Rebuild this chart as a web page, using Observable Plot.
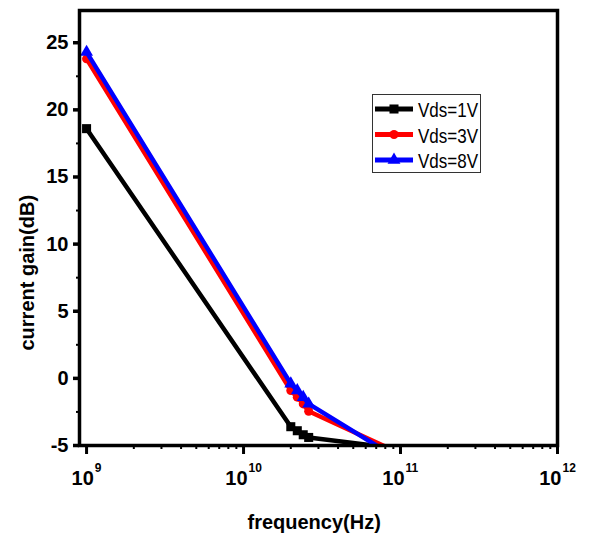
<!DOCTYPE html>
<html><head><meta charset="utf-8">
<script src="https://cdn.jsdelivr.net/npm/d3@7"></script>
<script src="https://cdn.jsdelivr.net/npm/@observablehq/plot@0.6"></script>
<style>
body{margin:0;background:#fff;}
#wrap{position:relative;width:589px;height:537px;font-family:"Liberation Sans",Arial,sans-serif;color:#000;}
#legend{position:absolute;left:372px;top:94px;}
</style></head>
<body><div id="wrap"></div>
<script>
// ---- data ----
const freqs = [1e9, 2.0e10, 2.2e10, 2.4e10, 2.6e10, 1e11];
const gain1V = [18.6, -3.6, -3.9, -4.2, -4.4, -5.25];
const gain3V = [23.8, -0.9, -1.4, -1.9, -2.45, -5.6];
const gain8V = [24.3, -0.4, -0.9, -1.4, -1.9, -6.1];
const seriesNames = ["Vds=1V", "Vds=3V", "Vds=8V"];
const seriesColors = ["#000000", "#ff0000", "#0000ff"];
const seriesSymbols = ["square", "circle", "triangle"];
const yTicks = [-5, 0, 5, 10, 15, 20, 25];
const yMinorTicks = [-2.5, 2.5, 7.5, 12.5, 17.5, 22.5];
const xTickExps = [9, 10, 11, 12];
const xMinorMult = [2, 3, 4, 5, 6, 7, 8, 9];
const xTitle = "frequency(Hz)";
const yTitle = "current gain(dB)";

const gains = [gain1V, gain3V, gain8V];
const rows = [];
gains.forEach((g, s) => g.forEach((v, i) => rows.push({series: seriesNames[s], f: freqs[i], v})));
const xMajors = xTickExps.map(e => 10 ** e);
const xMinors = [];
[9, 10, 11].forEach(e => xMinorMult.forEach(m => xMinors.push(m * 10 ** e)));

const FONT = '"Liberation Sans", Arial, sans-serif';
const seriesMarks = [];
seriesNames.forEach((name, s) => {
  const d = rows.filter(r => r.series === name);
  seriesMarks.push(Plot.line(d, {x: "f", y: "v", stroke: seriesColors[s], strokeWidth: 4.5, clip: true}));
  seriesMarks.push(Plot.dot(d, {x: "f", y: "v", symbol: () => seriesSymbols[s], fill: seriesColors[s], stroke: "none", r: s === 0 ? 5.1 : (s === 1 ? 4.5 : 4.8), clip: true}));
});

const oneDigit = xTickExps.filter(e => String(e).length === 1).map(e => 10 ** e);
const twoDigit = xTickExps.filter(e => String(e).length === 2).map(e => 10 ** e);
const mainLbl = (data, dx, tag) => Plot.text(data, {x: d => d, frameAnchor: "bottom", text: () => "10", textAnchor: "end", lineAnchor: "bottom", dx, dy: 39, fontSize: 20, fontWeight: "bold", fill: "black", ariaLabel: tag});
const expLbl = (data, dx, tag) => Plot.text(data, {x: d => d, frameAnchor: "bottom", text: d => String(Math.round(Math.log10(d))), textAnchor: "start", lineAnchor: "bottom", dx, dy: 26, fontSize: 12, fontWeight: "bold", fill: "black", ariaLabel: tag});

const chart = Plot.plot({
  width: 589, height: 537,
  marginLeft: 79, marginRight: 32, marginTop: 10, marginBottom: 92,
  style: {fontFamily: FONT, background: "white", color: "black", overflow: "visible"},
  x: {type: "log", domain: [10 ** 8.955, 1e12]},
  y: {domain: [-5, 27.4]},
  marks: [
    ...seriesMarks,
    Plot.axisX({ticks: xMinors, tickSize: 4, strokeWidth: 2, tickFormat: () => "", label: null}),
    Plot.axisX({ticks: xMajors, tickSize: 9, strokeWidth: 3, tickFormat: () => "", label: null}),
    Plot.axisY({ticks: yMinorTicks, tickSize: 3, strokeWidth: 2, tickFormat: () => "", label: null}),
    Plot.axisY({ticks: yTicks, tickSize: 6, strokeWidth: 3.5, tickPadding: 5, fontSize: 20, fontWeight: "bold", label: null, tickFormat: d => String(d)}),
    mainLbl(oneDigit, 7.3, "xlab-main"),
    mainLbl(twoDigit, 4.0, "xlab-main"),
    expLbl(oneDigit, 8.3, "xlab-exp"),
    expLbl(twoDigit, 5.0, "xlab-exp"),
    Plot.text([xTitle], {frameAnchor: "bottom", text: d => d, textAnchor: "start", dx: -71, dy: 83, lineAnchor: "bottom", fontSize: 20, fontWeight: "bold", fill: "black", ariaLabel: "xtitle"}),
    Plot.text([yTitle], {frameAnchor: "left", text: d => d, textAnchor: "start", dx: -46, dy: 122.5, rotate: -90, lineAnchor: "bottom", fontSize: 20, fontWeight: "bold", fill: "black", ariaLabel: "ytitle"}),
    Plot.frame({stroke: "black", strokeWidth: 3.5})
  ]
});

// stretch text like the reference
const svg = d3.select(chart);
svg.selectAll('g[aria-label="xlab-main"] text').each(function() { this.setAttribute("transform", (this.getAttribute("transform") || "") + " scale(1,1.3)"); });
svg.selectAll('g[aria-label="xlab-exp"] text').each(function() { this.setAttribute("transform", (this.getAttribute("transform") || "") + " scale(1,1.2)"); });
function fitLength(sel, len) {
  svg.selectAll(sel).each(function() {
    const s = this.textContent;
    while (this.firstChild) this.removeChild(this.firstChild);
    this.removeAttribute("y");
    this.textContent = s;
    this.setAttribute("textLength", len);
    this.setAttribute("lengthAdjust", "spacingAndGlyphs");
  });
}
fitLength('g[aria-label="ytitle"] text', 210);
fitLength('g[aria-label="xtitle"] text', 138);

const wrap = document.getElementById("wrap");
wrap.appendChild(chart);

// legend
const symMap = {square: d3.symbolSquare, circle: d3.symbolCircle, triangle: d3.symbolTriangle};
const rs = [5.1, 4.5, 4.8];
const leg = d3.create("svg").attr("id", "legend").attr("width", 110).attr("height", 80);
leg.append("rect").attr("x", 0.5).attr("y", 0.5).attr("width", 108).attr("height", 78).attr("fill", "white").attr("stroke", "#333").attr("stroke-width", 1);
seriesNames.forEach((name, s) => {
  const cy = 15 + s * 25.5;
  leg.append("line").attr("x1", 3).attr("x2", 41).attr("y1", cy).attr("y2", cy).attr("stroke", seriesColors[s]).attr("stroke-width", 5);
  leg.append("path").attr("transform", `translate(22,${cy})`).attr("d", d3.symbol(symMap[seriesSymbols[s]], Math.PI * rs[s] * rs[s])()).attr("fill", seriesColors[s]);
  leg.append("text").attr("transform", `translate(46,${cy + 8}) scale(1,1.22)`).attr("font-family", FONT).attr("font-size", 17).attr("fill", "black").text(name);
});
wrap.appendChild(leg.node());
</script>
</body></html>
